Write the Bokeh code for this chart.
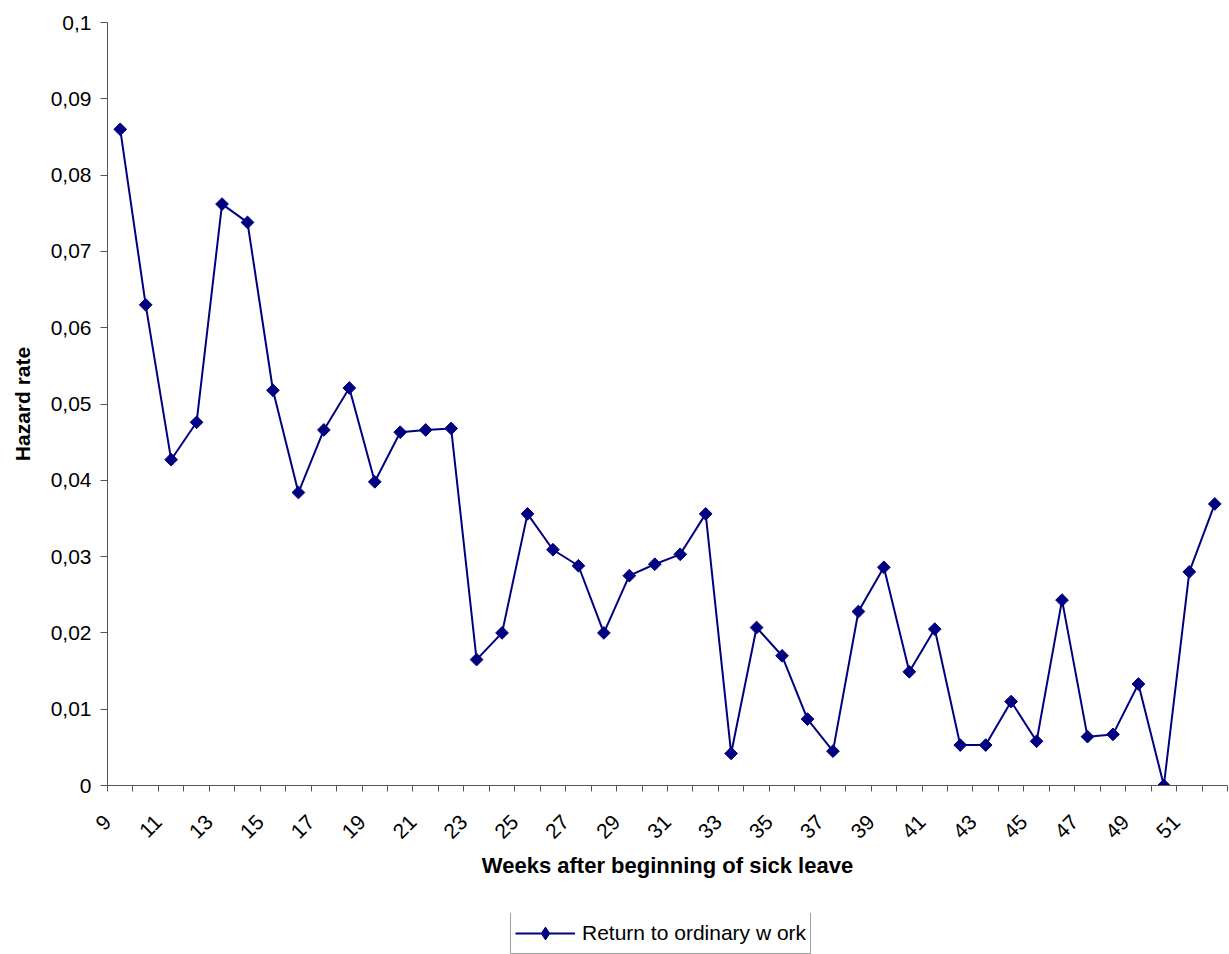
import math
from bokeh.plotting import figure
from bokeh.layouts import column
from bokeh.models import (Range1d, FixedTicker, CustomJSTickFormatter, Legend, LegendItem)
from bokeh.embed import file_html
from bokeh.resources import INLINE

weeks = list(range(9, 53))
hazard = [0.086, 0.063, 0.0427, 0.0476, 0.0762, 0.0738, 0.0518, 0.0384, 0.0466, 0.0521,
          0.0398, 0.0463, 0.0466, 0.0468, 0.0165, 0.0200, 0.0356, 0.0309, 0.0288, 0.0200,
          0.0275, 0.0290, 0.0303, 0.0356, 0.0042, 0.0207, 0.0170, 0.0087, 0.0045, 0.0228,
          0.0286, 0.0149, 0.0205, 0.0053, 0.0053, 0.0110, 0.0058, 0.0243, 0.0064, 0.0067,
          0.0133, 0.0000, 0.0280, 0.0369]
x_label_weeks = list(range(9, 52, 2))
y_ticks = [i / 100 for i in range(0, 11)]
series_name = "Return to ordinary w ork"

FONT = "Liberation Sans"
NAVY = "#000080"
AXIS = "#555555"
LABEL_SHIFT = 0.5  # rotated labels sit left of the category centre, as in the original

p = figure(width=1229, height=913, output_backend="svg", toolbar_location=None,
           x_range=Range1d(weeks[0] - 0.5, weeks[-1] + 0.5), y_range=Range1d(0, 0.1),
           min_border_left=107, min_border_right=2, min_border_top=22, min_border_bottom=128)
p.outline_line_color = None
p.xgrid.visible = False
p.ygrid.visible = False

line = p.line(weeks, hazard, line_color=NAVY, line_width=2)
pts = p.scatter(weeks, hazard, marker="square", size=9, angle=math.pi / 4,
                fill_color=NAVY, line_color=NAVY)

xa = p.xaxis[0]
xa.ticker = FixedTicker(ticks=[w - LABEL_SHIFT for w in x_label_weeks],
                        minor_ticks=[w - 0.5 for w in weeks] + [weeks[-1] + 0.5])
xa.formatter = CustomJSTickFormatter(args=dict(shift=LABEL_SHIFT),
                                     code="return String(Math.round(tick + shift));")
xa.major_tick_out = 0
xa.major_tick_in = 0
xa.major_tick_line_color = None
xa.minor_tick_out = 6
xa.minor_tick_in = 0
xa.minor_tick_line_color = AXIS
xa.axis_line_color = AXIS
xa.major_label_orientation = math.pi / 4
xa.major_label_text_font = FONT
xa.major_label_text_font_size = "21px"
xa.major_label_text_color = "black"
xa.major_label_standoff = 27
xa.axis_label = "Weeks after beginning of sick leave"
xa.axis_label_text_font = FONT
xa.axis_label_text_font_style = "bold"
xa.axis_label_text_font_size = "22px"
xa.axis_label_text_color = "black"
xa.axis_label_standoff = 5

ya = p.yaxis[0]
ya.ticker = FixedTicker(ticks=y_ticks, minor_ticks=[])
ya.formatter = CustomJSTickFormatter(code="return (Math.round(tick*100)/100).toString().replace('.', ',');")
ya.major_tick_out = 7
ya.major_tick_in = 0
ya.major_tick_line_color = AXIS
ya.axis_line_color = AXIS
ya.major_label_text_font = FONT
ya.major_label_text_font_size = "21px"
ya.major_label_text_color = "black"
ya.major_label_standoff = 9
ya.axis_label = "Hazard rate"
ya.axis_label_text_font = FONT
ya.axis_label_text_font_style = "bold"
ya.axis_label_text_font_size = "21px"
ya.axis_label_text_color = "black"
ya.axis_label_standoff = 14

# legend strip below the chart (its sample glyphs lie outside the strip's visible range)
lg = figure(width=1229, height=41, output_backend="svg", toolbar_location=None,
            x_axis_location=None, y_axis_location=None,
            x_range=Range1d(10, 11), y_range=Range1d(10, 11),
            min_border_left=0, min_border_right=0, min_border_top=0, min_border_bottom=0)
lg.outline_line_color = None
lg.xgrid.visible = False
lg.ygrid.visible = False
lg_line = lg.line([0, 1], [0, 0], line_color=NAVY, line_width=2)
lg_mark = lg.scatter([0.5], [0], marker="diamond", size=16, fill_color=NAVY, line_color=NAVY)

legend = Legend(items=[LegendItem(label=series_name, renderers=[lg_line, lg_mark])],
                location=(403, 0), orientation="horizontal",
                label_text_font=FONT, label_text_font_size="21px", label_standoff=7,
                label_text_color="black",
                glyph_width=60, glyph_height=32, padding=4, margin=0, spacing=0,
                border_line_color="#404040", border_line_width=1,
                background_fill_alpha=0)
lg.add_layout(legend, "center")

layout = column(p, lg, spacing=0)
open("out.html", "w").write(file_html(layout, INLINE))
